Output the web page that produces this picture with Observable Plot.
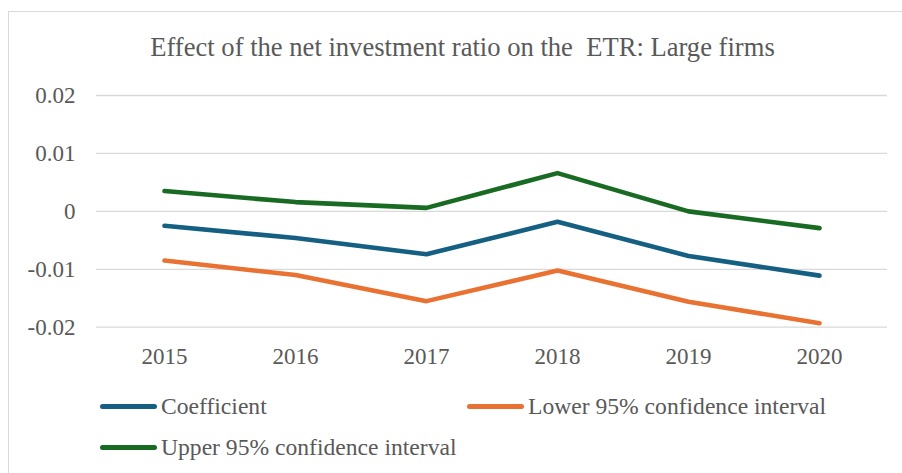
<!DOCTYPE html>
<html>
<head>
<meta charset="utf-8">
<script src="https://cdn.jsdelivr.net/npm/d3@7"></script>
<script src="https://cdn.jsdelivr.net/npm/@observablehq/plot@0.6"></script>
<style>
  html, body { margin: 0; padding: 0; background: #fff; }
  #wrap { position: relative; width: 902px; height: 473px; overflow: hidden; background: #fff;
          font-family: "Liberation Serif", "Times New Roman", serif; color: #595959; }
  #frame { position: absolute; left: 7.5px; top: 10.5px; width: 1000px; height: 1000px; border: 1.5px solid #d9d9d9; box-sizing: border-box; }
  #title { position: absolute; left: 0; width: 925px; top: 31px; text-align: center; font-size: 26.6px; line-height: 32px; white-space: pre; }
  #chart { position: absolute; left: 0; top: 70px; }
  .item { position: absolute; display: flex; align-items: center; font-size: 23.6px; white-space: nowrap; }
  .sw { display: inline-block; width: 57px; height: 5px; border-radius: 3px; margin-right: 4px; }
</style>
</head>
<body>
<div id="wrap">
  <div id="frame"></div>
  <div id="title"></div>
  <div id="chart"></div>
  <div id="legend"></div>
</div>
<script>
const title = "Effect of the net investment ratio on the  ETR: Large firms";
const years = ["2015", "2016", "2017", "2018", "2019", "2020"];
const seriesNames = ["Coefficient", "Lower 95% confidence interval", "Upper 95% confidence interval"];
const seriesColors = ["#156082", "#E97132", "#196B24"];
const coefficient = [-0.0025, -0.0046, -0.0074, -0.0018, -0.0077, -0.0111];
const lower95 = [-0.0085, -0.0110, -0.0155, -0.0102, -0.0156, -0.0193];
const upper95 = [0.0035, 0.0016, 0.0006, 0.0066, 0.0000, -0.0029];
const yTicks = [-0.02, -0.01, 0, 0.01, 0.02];

document.getElementById("title").textContent = title;

const seriesValues = [coefficient, lower95, upper95];
const rows = [];
seriesNames.forEach((name, i) => {
  years.forEach((yr, j) => rows.push({year: yr, value: seriesValues[i][j], series: name}));
});

const fmt = d => d === 0 ? "0" : d.toFixed(2);

const chart = Plot.plot({
  width: 902,
  height: 300,
  marginTop: 25,
  marginBottom: 43.3,
  marginLeft: 96,
  marginRight: 15,
  style: {fontFamily: "'Liberation Serif', 'Times New Roman', serif", fontSize: "23px", color: "#595959", background: "transparent", overflow: "visible"},
  x: {type: "point", domain: years, padding: 0.5, label: null},
  y: {domain: [-0.02, 0.02], label: null},
  color: {domain: seriesNames, range: seriesColors},
  marks: [
    Plot.gridY(yTicks, {stroke: "#d9d9d9", strokeOpacity: 1, strokeWidth: 1.3}),
    Plot.axisY(yTicks, {tickSize: 0, tickPadding: 21, tickFormat: fmt, fontSize: 23, label: null}),
    Plot.axisX({tickSize: 0, tickPadding: 20, fontSize: 23, label: null}),
    Plot.line(rows, {x: "year", y: "value", z: "series", stroke: "series", strokeWidth: 4.6, strokeLinecap: "round", strokeLinejoin: "round"})
  ]
});
document.getElementById("chart").appendChild(chart);

// legend
const legendPos = [[100, 406], [467, 406], [100, 447]];
const legend = document.getElementById("legend");
seriesNames.forEach((name, i) => {
  const it = document.createElement("div");
  it.className = "item";
  it.style.left = legendPos[i][0] + "px";
  it.style.top = (legendPos[i][1] - 15) + "px";
  it.style.height = "30px";
  const sw = document.createElement("span");
  sw.className = "sw";
  sw.style.background = seriesColors[i];
  it.appendChild(sw);
  const t = document.createElement("span");
  t.textContent = name;
  it.appendChild(t);
  legend.appendChild(it);
});
</script>
</body>
</html>
